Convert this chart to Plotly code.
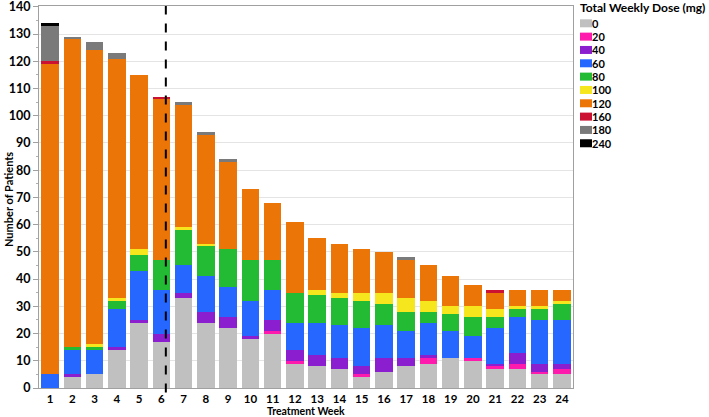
import plotly.graph_objects as go

weeks = list(range(1, 25))
week_labels = [str(w) for w in weeks]

doses = ["0", "20", "40", "60", "80", "100", "120", "160", "180", "240"]
colors = ["#C0C0C0", "#FF1AAE", "#8B1FCF", "#2567FF", "#22BB33",
          "#F5E61E", "#EC7508", "#CC1233", "#7A7A7A", "#000000"]

dose_0   = [0, 4, 5, 14, 24, 17, 33, 24, 22, 18, 20, 9, 8, 7, 4, 6, 8, 9, 11, 10, 7, 7, 5, 5]
dose_20  = [0, 0, 0, 0, 0, 0, 0, 0, 0, 0, 1, 1, 0, 0, 1, 0, 0, 2, 0, 1, 1, 2, 1, 2]
dose_40  = [0, 1, 0, 1, 1, 3, 2, 4, 4, 1, 4, 4, 4, 4, 3, 5, 3, 1, 0, 0, 1, 4, 3, 2]
dose_60  = [5, 9, 9, 14, 18, 16, 10, 13, 11, 13, 11, 10, 12, 12, 14, 12, 10, 12, 10, 8, 13, 13, 16, 16]
dose_80  = [0, 1, 1, 3, 6, 11, 13, 11, 14, 15, 11, 11, 10, 10, 10, 8, 7, 4, 6, 7, 4, 3, 4, 6]
dose_100 = [0, 0, 1, 1, 2, 0, 1, 1, 0, 0, 0, 0, 2, 2, 3, 4, 5, 4, 3, 4, 3, 1, 1, 1]
dose_120 = [114, 113, 108, 88, 64, 59, 45, 40, 32, 26, 21, 26, 19, 18, 16, 15, 14, 13, 11, 8, 6, 6, 6, 4]
dose_160 = [1, 0, 0, 0, 0, 1, 0, 0, 0, 0, 0, 0, 0, 0, 0, 0, 0, 0, 0, 0, 1, 0, 0, 0]
dose_180 = [13, 1, 3, 2, 0, 0, 1, 1, 1, 0, 0, 0, 0, 0, 0, 0, 1, 0, 0, 0, 0, 0, 0, 0]
dose_240 = [1, 0, 0, 0, 0, 0, 0, 0, 0, 0, 0, 0, 0, 0, 0, 0, 0, 0, 0, 0, 0, 0, 0, 0]

series = [dose_0, dose_20, dose_40, dose_60, dose_80, dose_100,
          dose_120, dose_160, dose_180, dose_240]

divider_week = 6.2
legend_title = "Total Weekly Dose (mg)"
x_title = "Treatment Week"
y_title = "Number of Patients"
y_ticks = list(range(0, 141, 10))

FONT = "Lato"
W, H = 709, 417
ML, MR, MT, MB = 39, 136, 6, 29
PW, PH = W - ML - MR, H - MT - MB

def px_x(px):
    return (px - ML) / PW

def px_y(py):
    return (H - MB - py) / PH

fig = go.Figure()
for name, vals, col in zip(doses, series, colors):
    fig.add_trace(go.Bar(
        x=weeks, y=vals, name=name, width=0.78,
        marker=dict(color=col, line=dict(width=0)),
        showlegend=False,
    ))

fig.add_shape(type="line", xref="x", yref="paper", x0=divider_week, x1=divider_week,
              y0=-0.012, y1=1, line=dict(color="#000000", width=2, dash="dash"))

# custom compact legend built from the dose/colour lists
fig.add_annotation(xref="paper", yref="paper", x=px_x(578), y=px_y(7.5),
                   xanchor="left", yanchor="middle", showarrow=False,
                   text=legend_title, font=dict(family=FONT, size=12, weight="bold"))
for i, (name, col) in enumerate(zip(doses, colors)):
    cy = 23.3 + i * 13.33
    fig.add_shape(type="rect", xref="paper", yref="paper",
                  x0=px_x(580), x1=px_x(592), y0=px_y(cy + 4), y1=px_y(cy - 4),
                  fillcolor=col, line=dict(width=0))
    fig.add_annotation(xref="paper", yref="paper", x=px_x(590), y=px_y(cy),
                       xanchor="left", yanchor="middle", showarrow=False,
                       text=name, font=dict(family=FONT, size=11, weight="bold"))

# axis titles
fig.add_annotation(xref="paper", yref="paper", x=px_x(306), y=px_y(411),
                   xanchor="center", yanchor="middle", showarrow=False,
                   text=x_title, font=dict(family=FONT, size=10.5, weight="bold"))
fig.add_annotation(xref="paper", yref="paper", x=px_x(8), y=px_y(200),
                   xanchor="center", yanchor="middle", showarrow=False, textangle=-90,
                   text=y_title, font=dict(family=FONT, size=11, weight="bold"))

fig.update_layout(
    width=W, height=H,
    barmode="stack",
    plot_bgcolor="white", paper_bgcolor="white",
    margin=dict(l=ML, r=MR, t=MT, b=MB, autoexpand=False),
    font=dict(family=FONT, size=12, color="#000000", weight="bold"),
    showlegend=False,
    xaxis=dict(
        range=[0.5, 24.5], tickmode="array", tickvals=weeks, ticktext=week_labels,
        showgrid=False, showline=True, linecolor="#A0A0A0", linewidth=1, mirror=True,
        ticks="", tickfont=dict(size=11.5, weight="bold"), automargin=False,
        ticklabelstandoff=0,
    ),
    yaxis=dict(
        range=[0, 140.3], tickmode="array", tickvals=y_ticks,
        showgrid=True, gridcolor="#E4E4E4", gridwidth=1,
        showline=True, linecolor="#A0A0A0", linewidth=1, mirror=True,
        ticks="outside", ticklen=5, tickcolor="#A0A0A0",
        minor=dict(dtick=5, ticks="outside", ticklen=2, tickcolor="#B0B0B0", showgrid=False),
        tickfont=dict(size=12.5, weight="bold"), automargin=False,
        ticklabeloverflow="allow",
        zeroline=False,
    ),
)

fig.write_html("out.html", config={"displayModeBar": False},
               post_script="document.body.style.margin='0';")
